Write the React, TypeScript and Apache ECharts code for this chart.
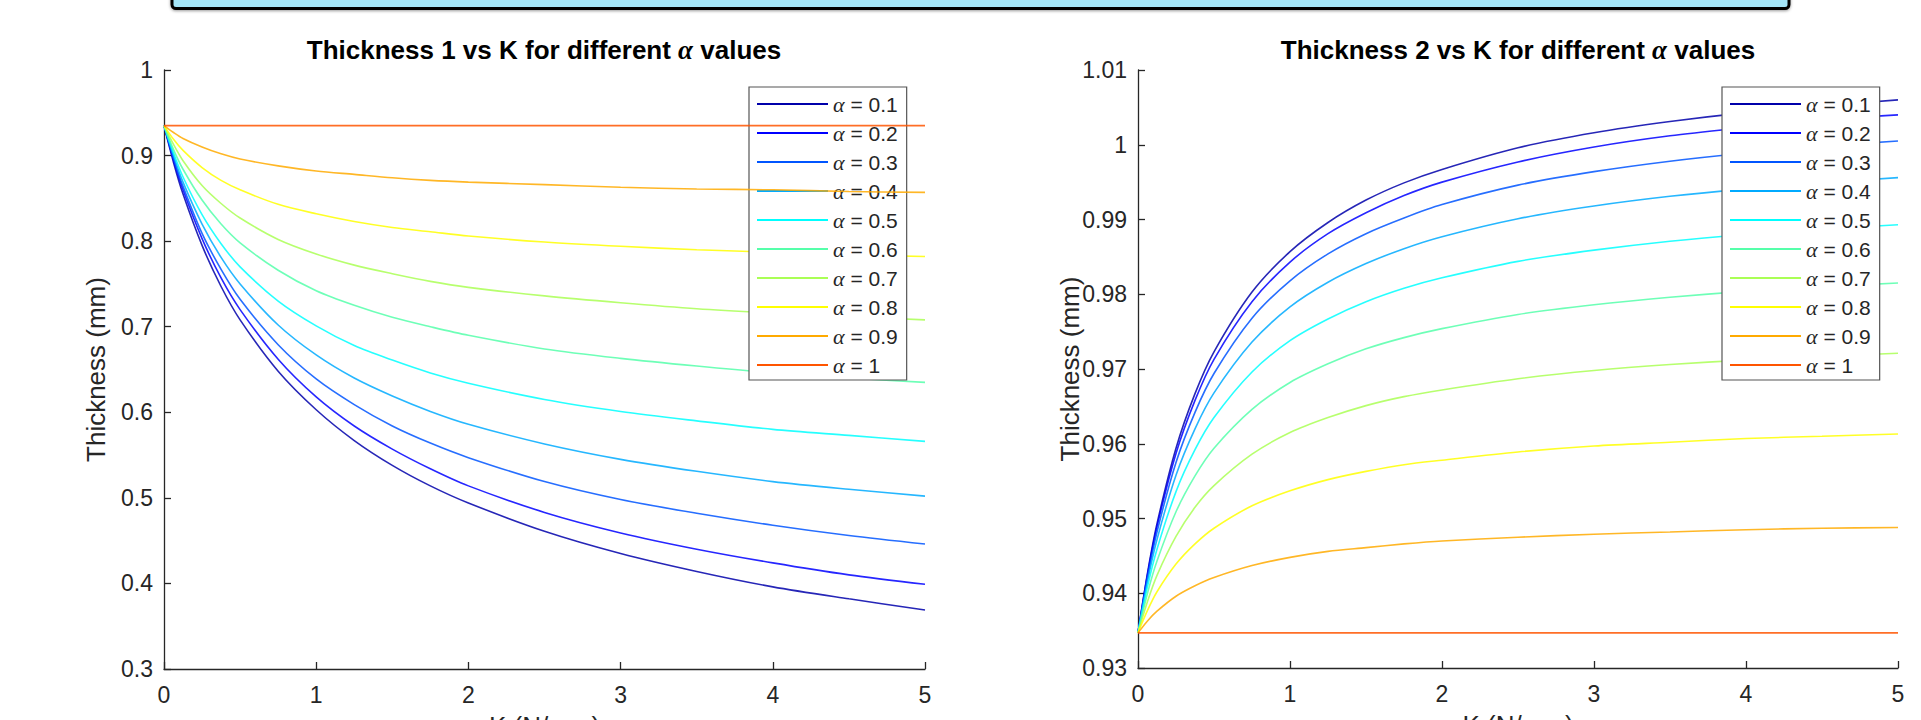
import React, { useEffect, useRef } from "react";
import * as echarts from "echarts";

const K = [0, 0.0625, 0.125, 0.25, 0.375, 0.5, 0.75, 1, 1.25, 1.5, 1.75, 2, 2.5, 3, 3.5, 4, 4.5, 5];
const alphaNames = ["α = 0.1", "α = 0.2", "α = 0.3", "α = 0.4", "α = 0.5", "α = 0.6", "α = 0.7", "α = 0.8", "α = 0.9", "α = 1"];
const lineColors = ["#0000aa", "#0000ff", "#0055ff", "#00aaff", "#00ffff", "#55ffaa", "#aaff55", "#ffff00", "#ffaa00", "#ff5500"];

// Thickness 1 (left chart), one value per K
const t1_a01 = [0.935, 0.892, 0.855, 0.795, 0.747, 0.708, 0.648, 0.603, 0.567, 0.538, 0.514, 0.494, 0.461, 0.435, 0.414, 0.396, 0.382, 0.369];
const t1_a02 = [0.935, 0.895, 0.86, 0.803, 0.757, 0.72, 0.662, 0.618, 0.584, 0.557, 0.534, 0.514, 0.483, 0.459, 0.44, 0.424, 0.41, 0.399];
const t1_a03 = [0.935, 0.897, 0.864, 0.809, 0.767, 0.732, 0.679, 0.639, 0.609, 0.584, 0.564, 0.547, 0.519, 0.498, 0.482, 0.468, 0.456, 0.446];
const t1_a04 = [0.935, 0.9, 0.869, 0.82, 0.781, 0.75, 0.702, 0.667, 0.64, 0.619, 0.601, 0.586, 0.563, 0.545, 0.531, 0.519, 0.51, 0.502];
const t1_a05 = [0.935, 0.903, 0.875, 0.831, 0.797, 0.77, 0.73, 0.701, 0.678, 0.661, 0.646, 0.634, 0.615, 0.601, 0.59, 0.58, 0.573, 0.566];
const t1_a06 = [0.935, 0.907, 0.884, 0.848, 0.82, 0.798, 0.766, 0.742, 0.725, 0.711, 0.7, 0.69, 0.674, 0.663, 0.654, 0.646, 0.64, 0.635];
const t1_a07 = [0.935, 0.913, 0.894, 0.865, 0.844, 0.827, 0.802, 0.785, 0.772, 0.762, 0.753, 0.746, 0.736, 0.728, 0.721, 0.716, 0.712, 0.708];
const t1_a08 = [0.935, 0.919, 0.906, 0.886, 0.871, 0.86, 0.843, 0.832, 0.823, 0.816, 0.811, 0.806, 0.799, 0.794, 0.79, 0.787, 0.784, 0.782];
const t1_a09 = [0.935, 0.927, 0.92, 0.91, 0.902, 0.896, 0.888, 0.882, 0.878, 0.874, 0.871, 0.869, 0.866, 0.863, 0.861, 0.86, 0.858, 0.857];
const t1_a10 = [0.935, 0.935, 0.935, 0.935, 0.935, 0.935, 0.935, 0.935, 0.935, 0.935, 0.935, 0.935, 0.935, 0.935, 0.935, 0.935, 0.935, 0.935];

// Thickness 2 (right chart), one value per K
const t2_a01 = [0.9347, 0.9427, 0.9493, 0.9594, 0.9667, 0.9723, 0.9803, 0.9857, 0.9896, 0.9926, 0.9949, 0.9967, 0.9996, 1.0016, 1.0031, 1.0043, 1.0052, 1.006];
const t2_a02 = [0.9347, 0.9425, 0.9489, 0.9587, 0.9658, 0.9713, 0.979, 0.9843, 0.9881, 0.9909, 0.9932, 0.995, 0.9977, 0.9997, 1.0012, 1.0023, 1.0033, 1.004];
const t2_a03 = [0.9347, 0.9421, 0.9482, 0.9575, 0.9642, 0.9694, 0.9768, 0.9818, 0.9854, 0.9881, 0.9902, 0.992, 0.9946, 0.9964, 0.9978, 0.9989, 0.9998, 1.0005];
const t2_a04 = [0.9347, 0.9416, 0.9472, 0.9558, 0.962, 0.9668, 0.9736, 0.9783, 0.9816, 0.9841, 0.9861, 0.9877, 0.9901, 0.9918, 0.9931, 0.9941, 0.9949, 0.9956];
const t2_a05 = [0.9347, 0.9409, 0.9459, 0.9536, 0.9592, 0.9635, 0.9696, 0.9738, 0.9767, 0.979, 0.9808, 0.9822, 0.9844, 0.9859, 0.9871, 0.988, 0.9887, 0.9893];
const t2_a06 = [0.9347, 0.94, 0.9443, 0.9509, 0.9557, 0.9594, 0.9646, 0.9682, 0.9707, 0.9727, 0.9742, 0.9754, 0.9773, 0.9786, 0.9796, 0.9804, 0.981, 0.9815];
const t2_a07 = [0.9347, 0.9389, 0.9424, 0.9476, 0.9515, 0.9544, 0.9586, 0.9615, 0.9635, 0.9651, 0.9663, 0.9672, 0.9687, 0.9698, 0.9706, 0.9712, 0.9717, 0.9721];
const t2_a08 = [0.9347, 0.9377, 0.9402, 0.9439, 0.9466, 0.9487, 0.9517, 0.9537, 0.9552, 0.9563, 0.9572, 0.9578, 0.9589, 0.9597, 0.9602, 0.9607, 0.961, 0.9613];
const t2_a09 = [0.9347, 0.9363, 0.9376, 0.9396, 0.941, 0.9421, 0.9437, 0.9448, 0.9456, 0.9461, 0.9466, 0.947, 0.9475, 0.9479, 0.9482, 0.9485, 0.9487, 0.9488];
const t2_a10 = [0.9347, 0.9347, 0.9347, 0.9347, 0.9347, 0.9347, 0.9347, 0.9347, 0.9347, 0.9347, 0.9347, 0.9347, 0.9347, 0.9347, 0.9347, 0.9347, 0.9347, 0.9347];

const thickness1 = [t1_a01, t1_a02, t1_a03, t1_a04, t1_a05, t1_a06, t1_a07, t1_a08, t1_a09, t1_a10];
const thickness2 = [t2_a01, t2_a02, t2_a03, t2_a04, t2_a05, t2_a06, t2_a07, t2_a08, t2_a09, t2_a10];

const xTicks = { min: 0, max: 5, interval: 1 };
const y1Ticks = { min: 0.3, max: 1, interval: 0.1 };
const y2Ticks = { min: 0.93, max: 1.01, interval: 0.01 };

const titles = ["Thickness 1 vs K for different ", "Thickness 2 vs K for different "];
const titleTail = " values";
const yName = "Thickness (mm)";
const xName = "K (N/mm)";

const FONT = "'Liberation Sans', Arial, Helvetica, sans-serif";
const SERIF = "'Liberation Serif', 'DejaVu Serif', serif";
const AXIS_COLOR = "#262626";

export default function App() {
  const ref = useRef<HTMLDivElement>(null);

  useEffect(() => {
    document.body.style.margin = "0";
    if (!ref.current) return;
    const chart = echarts.init(ref.current, undefined, { renderer: "svg" });

    const grids = [
      { left: 164, top: 70, width: 761, height: 599, containLabel: false, outerBoundsMode: "none" },
      { left: 1138, top: 70, width: 760, height: 598, containLabel: false, outerBoundsMode: "none" },
    ];

    const fmt = (v: number) => String(Number(v.toFixed(3)));

    const xAxes = [0, 1].map((g) => ({
      type: "value",
      gridIndex: g,
      min: xTicks.min,
      max: xTicks.max,
      interval: xTicks.interval,
      name: xName,
      nameLocation: "middle",
      nameGap: 44,
      nameMoveOverlap: false,
      nameTextStyle: { fontSize: 26, color: AXIS_COLOR, fontFamily: FONT },
      axisLine: { show: true, lineStyle: { color: AXIS_COLOR, width: 1.3 } },
      axisTick: { show: true, inside: true, length: 7, lineStyle: { color: AXIS_COLOR, width: 1.3 } },
      axisLabel: { fontSize: 23, color: AXIS_COLOR, fontFamily: FONT, margin: 14, formatter: fmt },
      splitLine: { show: false },
    }));

    const yAxes = [y1Ticks, y2Ticks].map((t, g) => ({
      type: "value",
      gridIndex: g,
      min: t.min,
      max: t.max,
      interval: t.interval,
      name: yName,
      nameLocation: "middle",
      nameGap: 55,
      nameMoveOverlap: false,
      nameTextStyle: { fontSize: 26, color: AXIS_COLOR, fontFamily: FONT },
      axisLine: { show: true, lineStyle: { color: AXIS_COLOR, width: 1.3 } },
      axisTick: { show: true, inside: true, length: 7, lineStyle: { color: AXIS_COLOR, width: 1.3 } },
      axisLabel: { fontSize: 23, color: AXIS_COLOR, fontFamily: FONT, margin: 11, formatter: fmt },
      splitLine: { show: false },
    }));

    const series: any[] = [];
    [thickness1, thickness2].forEach((set, g) => {
      set.forEach((vals, i) => {
        series.push({
          type: "line",
          name: alphaNames[i],
          xAxisIndex: g,
          yAxisIndex: g,
          data: K.map((k, j) => [k, vals[j]]),
          symbol: "none",
          showSymbol: false,
          smooth: 0.3,
          color: lineColors[i],
          lineStyle: { width: 1.6, color: lineColors[i], opacity: 0.85 },
          z: 2 + i,
        });
      });
    });

    const legendBase = {
      data: alphaNames,
      orient: "vertical",
      top: 87,
      padding: [6, 9, 4, 8],
      itemWidth: 71,
      itemHeight: 2,
      itemGap: 7,
      icon: "rect",
      backgroundColor: "#ffffff",
      borderColor: "#555555",
      borderWidth: 1.2,
      borderRadius: 0,
      selectedMode: false,
      z: 10,
      formatter: (name: string) => name.replace("α", "{a|α}"),
      textStyle: {
        fontSize: 21,
        lineHeight: 20,
        color: AXIS_COLOR,
        fontFamily: FONT,
        rich: {
          a: { fontSize: 22, lineHeight: 20, fontStyle: "italic", fontFamily: SERIF, color: AXIS_COLOR },
        },
      },
    };

    const titleRich = {
      b: { fontSize: 26, fontWeight: "bold", fontFamily: FONT, color: "#000" },
      a: { fontSize: 27, fontStyle: "italic", fontFamily: SERIF, color: "#000" },
    };

    chart.setOption({
      animation: false,
      backgroundColor: "#ffffff",
      title: [
        {
          text: `{b|${titles[0]}}{a|α}{b|${titleTail}}`,
          left: 544,
          top: 36,
          padding: 0,
          textAlign: "center",
          textStyle: { rich: titleRich },
        },
        {
          text: `{b|${titles[1]}}{a|α}{b|${titleTail}}`,
          left: 1518,
          top: 36,
          padding: 0,
          textAlign: "center",
          textStyle: { rich: titleRich },
        },
      ],
      grid: grids,
      xAxis: xAxes,
      yAxis: yAxes,
      legend: [
        { ...legendBase, left: 749 },
        { ...legendBase, left: 1722 },
      ],
      graphic: [
        {
          type: "rect",
          shape: { x: 172, y: -12, width: 1617, height: 20.5, r: 4 },
          style: { fill: "#a3e5f8", stroke: "#000000", lineWidth: 3, shadowBlur: 3, shadowColor: "rgba(0,0,0,0.4)", shadowOffsetY: 1 },
          z: 20,
        },
      ],
      series,
    });

    return () => chart.dispose();
  }, []);

  return <div ref={ref} style={{ width: 1921, height: 720 }} />;
}
